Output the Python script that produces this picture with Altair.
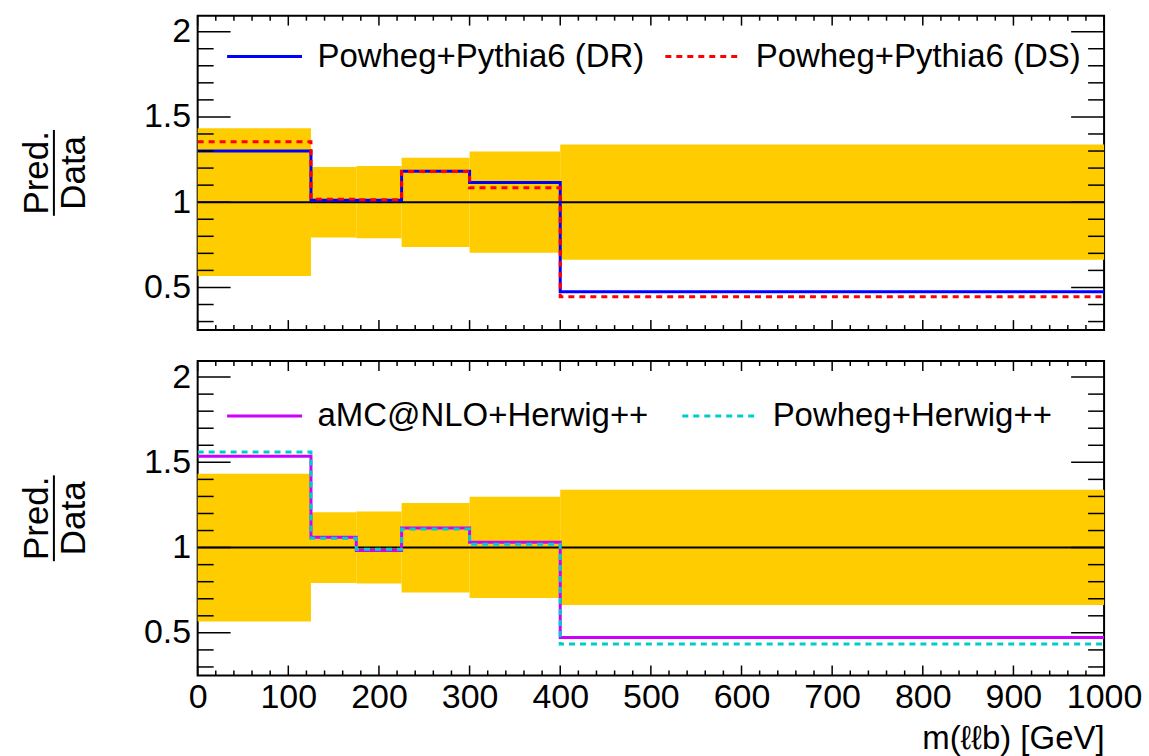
import altair as alt
import pandas as pd

# ---- data ----
edges = [0, 125, 175, 225, 300, 400, 1000]
band_lo = [0.567, 0.793, 0.789, 0.737, 0.704, 0.663]
band_hi = [1.433, 1.207, 1.212, 1.261, 1.298, 1.339]

dr_vals = [1.300, 1.012, 1.012, 1.181, 1.115, 0.475]
ds_vals = [1.355, 1.018, 1.015, 1.180, 1.084, 0.446]
amc_vals = [1.535, 1.060, 0.983, 1.115, 1.031, 0.473]
phw_vals = [1.560, 1.055, 0.990, 1.109, 1.020, 0.434]

names_top = ["Powheg+Pythia6 (DR)", "Powheg+Pythia6 (DS)"]
names_bot = ["aMC@NLO+Herwig++", "Powheg+Herwig++"]
colors_top = ["#0000ff", "#ff0000"]
colors_bot = ["#cc00ff", "#00cccc"]

y_major = [0.5, 1.0, 1.5, 2.0]
y_minor = [0.3, 0.4, 0.6, 0.7, 0.8, 0.9, 1.1, 1.2, 1.3, 1.4, 1.6, 1.7, 1.8, 1.9]
x_major = [0, 100, 200, 300, 400, 500, 600, 700, 800, 900, 1000]
x_minor = [v for v in range(0, 1001, 20) if v % 100 != 0]

W, H = 908, 315
FONT = "Liberation Sans"

xs = alt.Scale(domain=[0, 1000], nice=False, zero=False)
ys = alt.Scale(domain=[0.25, 2.094], nice=False, zero=False)

yaxis = alt.Axis(values=y_major, format="~g", labelFontSize=34, labelFont=FONT,
                 labelPadding=7, ticks=False, tickSize=0, domain=False, grid=False,
                 title=None, labelColor="black")


def make_panel(names, values, colors, show_x, legend_y, col_pad):
    if show_x:
        xaxis = alt.Axis(values=x_major, format="d", labelFontSize=34, labelFont=FONT,
                         labelPadding=5, ticks=False, tickSize=0, domain=False, grid=False,
                         labelFlush=False, labelOverlap=False, labelColor="black",
                         title="m(ℓℓb) [GeV]", titleFont=FONT, titleFontSize=33,
                         titleFontWeight="normal", titleAnchor="end", titlePadding=8,
                         titleColor="black")
    else:
        xaxis = None

    band_df = pd.DataFrame({"lo": edges[:-1], "hi": edges[1:], "blo": band_lo, "bhi": band_hi})
    band = alt.Chart(band_df).mark_rect(color="#ffcc00").encode(
        x=alt.X("lo:Q", scale=xs, axis=xaxis), x2="hi:Q",
        y=alt.Y("blo:Q", scale=ys, axis=yaxis), y2="bhi:Q")

    unity = alt.Chart(pd.DataFrame({"v": [1.0]})).mark_rule(color="black", strokeWidth=2).encode(
        y=alt.Y("v:Q", scale=ys, axis=yaxis))

    legend = alt.Legend(title=None, orient="none", legendX=28, legendY=legend_y,
                        direction="horizontal", symbolType="stroke", symbolSize=5625,
                        symbolStrokeWidth=3, labelFontSize=33, labelFont=FONT,
                        labelOffset=14, columnPadding=col_pad, labelLimit=800,
                        padding=0, labelColor="black")
    cscale = alt.Scale(domain=names, range=colors)
    dscale = alt.Scale(domain=names, range=[[1, 0], [6, 5]])

    lines = []
    for name, vals in zip(names, values):
        df = pd.DataFrame({"x": edges, "v": vals + [vals[-1]], "series": [name] * len(edges)})
        lines.append(
            alt.Chart(df).mark_line(interpolate="step-after", strokeWidth=3, clip=True).encode(
                x=alt.X("x:Q", scale=xs, axis=xaxis),
                y=alt.Y("v:Q", scale=ys, axis=yaxis),
                color=alt.Color("series:N", scale=cscale, legend=legend),
                strokeDash=alt.StrokeDash("series:N", scale=dscale, legend=legend)))

    ticks = []
    ymaj = pd.DataFrame({"v": y_major})
    ymin = pd.DataFrame({"v": y_minor})
    xmaj = pd.DataFrame({"v": x_major})
    xmin = pd.DataFrame({"v": x_minor})
    for df, ln in ((ymaj, 33), (ymin, 16)):
        ticks.append(alt.Chart(df).mark_rule(color="black", strokeWidth=1.5).encode(
            y=alt.Y("v:Q", scale=ys, axis=yaxis), x=alt.value(0), x2=alt.value(ln)))
        ticks.append(alt.Chart(df).mark_rule(color="black", strokeWidth=1.5).encode(
            y=alt.Y("v:Q", scale=ys, axis=yaxis), x=alt.value(W), x2=alt.value(W - ln)))
    for df, ln in ((xmaj, 10), (xmin, 5)):
        ticks.append(alt.Chart(df).mark_rule(color="black", strokeWidth=1.5).encode(
            x=alt.X("v:Q", scale=xs, axis=xaxis), y=alt.value(0), y2=alt.value(ln)))
        ticks.append(alt.Chart(df).mark_rule(color="black", strokeWidth=1.5).encode(
            x=alt.X("v:Q", scale=xs, axis=xaxis), y=alt.value(H), y2=alt.value(H - ln)))

    pred = alt.Chart(pd.DataFrame({"t": ["Pred."]})).mark_text(
        angle=270, font=FONT, fontSize=35, align="center", baseline="alphabetic", color="black"
    ).encode(text="t:N", x=alt.value(-150), y=alt.value(H / 2))
    data = alt.Chart(pd.DataFrame({"t": ["Data"]})).mark_text(
        angle=270, font=FONT, fontSize=35, align="center", baseline="top", color="black"
    ).encode(text="t:N", x=alt.value(-141), y=alt.value(H / 2))
    bar = alt.Chart(pd.DataFrame({"t": ["bar"]})).mark_rule(color="black", strokeWidth=2).encode(
        x=alt.value(-144), y=alt.value(H / 2 - 43), y2=alt.value(H / 2 + 43))

    return alt.layer(band, unity, *lines, *ticks, pred, bar, data).properties(width=W, height=H)


top = make_panel(names_top, [dr_vals, ds_vals], colors_top, False, 2, 14)
bottom = make_panel(names_bot, [amc_vals, phw_vals], colors_bot, True, 16, 27)

chart = alt.vconcat(top, bottom, spacing=27).resolve_scale(
    color="independent", strokeDash="independent"
).resolve_legend(color="independent", strokeDash="independent").properties(
    padding={"left": 19, "top": 13, "right": 6, "bottom": 6},
    background="white",
).configure_view(stroke="black", strokeWidth=2)

chart.save("out.html", embed_options={"renderer": "svg", "actions": False})
